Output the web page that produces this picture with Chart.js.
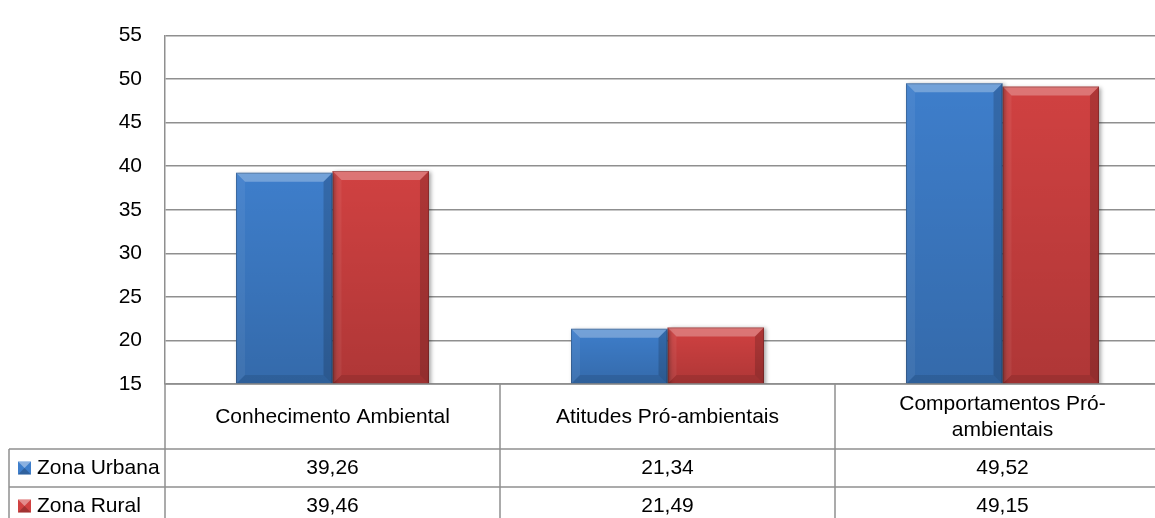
<!DOCTYPE html>
<html>
<head>
<meta charset="utf-8">
<script src="https://cdn.jsdelivr.net/npm/chart.js@4/dist/chart.umd.min.js"></script>
<style>
  html, body { margin: 0; padding: 0; background: #ffffff; overflow: hidden; }
  #wrap { width: 1155px; height: 518px; overflow: hidden; }
  canvas { display: block; }
</style>
</head>
<body>
<div id="wrap"><canvas id="c" width="1180" height="525"></canvas></div>
<script>
// Scores by area of residence
const categories = ['Conhecimento Ambiental', 'Atitudes Pró-ambientais', 'Comportamentos Pró-ambientais'];
const seriesNames = ['Zona Urbana', 'Zona Rural'];
const urbana = [39.26, 21.34, 49.52];
const rural = [39.46, 21.49, 49.15];
const yMin = 15;
const yMax = 55;
const yStep = 5;

const FONT = '"Liberation Sans", Arial, sans-serif';
const FONT_SIZE = 21;
const GRID = '#8f8f8f';
const seriesColors = ['#3e7ecb', '#d04141'];

const fmt = v => v.toFixed(2).replace('.', ',');

// Split a label at spaces and hyphens so it fits a table cell
function wrapLabel(ctx, text, maxW) {
  const parts = text.match(/[^\s-]+-?\s*/g) || [text];
  const lines = [];
  let cur = '';
  for (const p of parts) {
    const test = cur + p;
    if (cur && ctx.measureText(test.trim()).width > maxW) {
      lines.push(cur.trim());
      cur = p;
    } else {
      cur = test;
    }
  }
  if (cur.trim()) lines.push(cur.trim());
  return lines;
}

// Raised, bevelled faces on each bar plus a soft drop shadow
const bevelPlugin = {
  id: 'bevel',
  beforeDatasetsDraw(chart) {
    const ctx = chart.ctx;
    ctx.save();
    ctx.shadowColor = 'rgba(0,0,0,0.35)';
    ctx.shadowBlur = 4;
    ctx.shadowOffsetX = 2;
    ctx.shadowOffsetY = 1;
  },
  afterDatasetsDraw(chart) {
    const ctx = chart.ctx;
    const area = chart.chartArea;
    ctx.restore();
    ctx.save();
    ctx.beginPath();
    ctx.rect(area.left, area.top, area.right - area.left, area.bottom - area.top);
    ctx.clip();
    chart.data.datasets.forEach((ds, di) => {
      chart.getDatasetMeta(di).data.forEach(bar => {
        const p = bar.getProps(['x', 'y', 'base', 'width'], true);
        const l = p.x - p.width / 2, r = p.x + p.width / 2;
        const t = Math.max(Math.min(p.y, p.base), area.top);
        const b = Math.min(Math.max(p.y, p.base), area.bottom);
        const k = Math.min(9, (r - l) / 2, (b - t) / 2);
        const poly = (pts, fill) => {
          ctx.beginPath();
          ctx.moveTo(pts[0][0], pts[0][1]);
          for (let i = 1; i < pts.length; i++) ctx.lineTo(pts[i][0], pts[i][1]);
          ctx.closePath();
          ctx.fillStyle = fill;
          ctx.fill();
        };
        // face shading, darker toward the base
        const g = ctx.createLinearGradient(0, t, 0, b);
        g.addColorStop(0, 'rgba(0,0,0,0)');
        g.addColorStop(1, 'rgba(0,0,0,0.16)');
        ctx.fillStyle = g;
        ctx.fillRect(l, t, r - l, b - t);
        poly([[l, t], [r, t], [r - k, t + k], [l + k, t + k]], 'rgba(255,255,255,0.28)');
        poly([[l, t], [l + k, t + k], [l + k, b - k], [l, b]], 'rgba(255,255,255,0.06)');
        poly([[r, t], [r, b], [r - k, b - k], [r - k, t + k]], 'rgba(0,0,0,0.16)');
        poly([[l, b], [r, b], [r - k, b - k], [l + k, b - k]], 'rgba(0,0,0,0.10)');
        ctx.strokeStyle = 'rgba(0,0,0,0.22)';
        ctx.lineWidth = 1;
        ctx.strokeRect(l + 0.5, t + 0.5, r - l - 1, b - t - 1);
      });
    });
    ctx.restore();
  }
};

// Data table under the plot: category row and one row per series
const tablePlugin = {
  id: 'dataTable',
  afterDraw(chart) {
    const ctx = chart.ctx;
    const area = chart.chartArea;
    const xs = chart.scales.x;
    const n = categories.length;
    const catRowH = 65;
    const rowH = 38;
    const tableLeft = 9;
    const H = chart.height;
    const W = chart.width;

    const centers = categories.map((_, i) => xs.getPixelForValue(i));
    const bounds = [area.left];
    for (let i = 1; i < n; i++) bounds.push((centers[i - 1] + centers[i]) / 2);
    bounds.push(area.right);

    ctx.save();
    ctx.strokeStyle = GRID;
    ctx.lineWidth = 1.5;

    // vertical rules
    bounds.forEach(x => {
      ctx.beginPath();
      ctx.moveTo(x, area.bottom);
      ctx.lineTo(x, H);
      ctx.stroke();
    });
    const rowTops = [area.bottom + catRowH, area.bottom + catRowH + rowH];
    ctx.beginPath();
    ctx.moveTo(tableLeft, rowTops[0]);
    ctx.lineTo(tableLeft, H);
    ctx.stroke();

    // horizontal rules
    rowTops.forEach(y => {
      ctx.beginPath();
      ctx.moveTo(tableLeft, y);
      ctx.lineTo(W, y);
      ctx.stroke();
    });
    ctx.beginPath();
    ctx.moveTo(area.left, area.bottom);
    ctx.lineTo(W, area.bottom);
    ctx.stroke();

    ctx.fillStyle = '#000000';
    ctx.font = FONT_SIZE + 'px ' + FONT;
    ctx.textAlign = 'center';
    ctx.textBaseline = 'middle';

    // category labels
    categories.forEach((c, i) => {
      const lines = wrapLabel(ctx, c, bounds[i + 1] - bounds[i] - 60);
      const lh = 26;
      const cy = area.bottom + catRowH / 2 + 1;
      lines.forEach((ln, j) => {
        ctx.fillText(ln, centers[i], cy + (j - (lines.length - 1) / 2) * lh);
      });
    });

    // series rows
    const seriesData = [urbana, rural];
    seriesData.forEach((vals, si) => {
      const cy = rowTops[si] + rowH / 2;
      vals.forEach((v, i) => {
        ctx.textAlign = 'center';
        ctx.fillText(fmt(v), centers[i], cy);
      });
      // legend key
      const ks = 13, kx = 18, ky = cy - ks / 2;
      ctx.fillStyle = seriesColors[si];
      ctx.fillRect(kx, ky, ks, ks);
      ctx.fillStyle = 'rgba(255,255,255,0.40)';
      ctx.beginPath();
      ctx.moveTo(kx, ky); ctx.lineTo(kx + ks, ky); ctx.lineTo(kx + ks / 2, ky + ks / 2); ctx.closePath();
      ctx.fill();
      ctx.fillStyle = 'rgba(0,0,0,0.22)';
      ctx.beginPath();
      ctx.moveTo(kx, ky + ks); ctx.lineTo(kx + ks, ky + ks); ctx.lineTo(kx + ks / 2, ky + ks / 2); ctx.closePath();
      ctx.fill();
      ctx.fillStyle = '#000000';
      ctx.textAlign = 'left';
      ctx.fillText(seriesNames[si], kx + ks + 6, cy);
    });
    ctx.restore();
  }
};

new Chart(document.getElementById('c'), {
  type: 'bar',
  data: {
    labels: categories,
    datasets: [
      { label: seriesNames[0], data: urbana, backgroundColor: seriesColors[0] },
      { label: seriesNames[1], data: rural, backgroundColor: seriesColors[1] }
    ]
  },
  options: {
    responsive: false,
    devicePixelRatio: 1,
    animation: false,
    layout: { padding: { top: 25, left: 0, right: 10, bottom: 141 } },
    datasets: { bar: { categoryPercentage: 0.576, barPercentage: 1.0, borderWidth: 0 } },
    plugins: { legend: { display: false }, tooltip: { enabled: false } },
    scales: {
      x: { display: false },
      y: {
        min: yMin,
        max: yMax,
        ticks: {
          stepSize: yStep,
          padding: 23,
          color: '#000000',
          font: { family: FONT, size: FONT_SIZE }
        },
        grid: { color: GRID, lineWidth: 1.5, drawTicks: false },
        border: { display: true, color: GRID, width: 1.5 },
        afterFit(scale) { scale.width = 165; }
      }
    }
  },
  plugins: [bevelPlugin, tablePlugin]
});
</script>
</body>
</html>
